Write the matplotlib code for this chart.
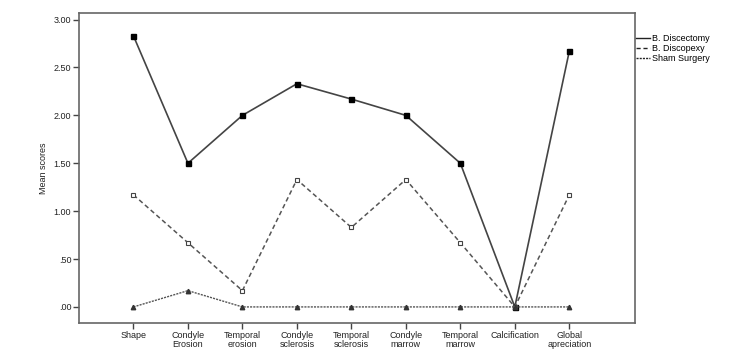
import matplotlib
matplotlib.use('Agg')
import matplotlib.pyplot as plt
from matplotlib.lines import Line2D

categories = ['Shape', 'Condyle\nErosion', 'Temporal\nerosion', 'Condyle\nsclerosis',
              'Temporal\nsclerosis', 'Condyle\nmarrow', 'Temporal\nmarrow',
              'Calcification', 'Global\napreciation']
discectomy = [2.83, 1.50, 2.00, 2.33, 2.17, 2.00, 1.50, 0.00, 2.67]
discopexy = [1.17, 0.67, 0.17, 1.33, 0.83, 1.33, 0.67, 0.00, 1.17]
sham = [0.00, 0.17, 0.00, 0.00, 0.00, 0.00, 0.00, 0.00, 0.00]
yticks = [0, 0.5, 1.0, 1.5, 2.0, 2.5, 3.0]
ytick_labels = ['.00', '.50', '1.00', '1.50', '2.00', '2.50', '3.00']

plt.rcParams['font.family'] = ['Liberation Sans', 'DejaVu Sans']

fig = plt.figure(figsize=(7.38, 3.58), dpi=100)
ax = fig.add_axes([0.107, 0.098, 0.753, 0.866])

x = list(range(len(categories)))
ax.plot(x, discectomy, '-', color='#444444', lw=1.2, marker='s', ms=3.6,
        mfc='black', mec='black')
ax.plot(x, discopexy, '--', color='#555555', lw=1.1, dashes=(3, 2), marker='s', ms=3.2,
        mfc='white', mec='#444444', mew=0.8)
ax.plot(x, sham, '--', color='#555555', lw=1.0, dashes=(1.5, 0.8), marker='^', ms=3.2,
        mfc='#333333', mec='#333333')

ax.set_xlim(-1, 9.2)
ax.set_ylim(-0.167, 3.07)
ax.set_xticks(x)
ax.set_xticklabels(categories, fontsize=6.5, color='#222222', linespacing=1.0)
ax.set_yticks(yticks)
ax.set_yticklabels(ytick_labels, fontsize=6.5, color='#222222')
ax.set_ylabel('Mean scores', fontsize=6.5, color='#222222')

for s in ax.spines.values():
    s.set_color('#666666')
    s.set_linewidth(1.2)
ax.tick_params(direction='out', length=4, width=1.0, color='#444444', pad=1.5)

handles = [Line2D([], [], color='#222222', ls='-', lw=1),
           Line2D([], [], color='#222222', ls='--', lw=1, dashes=(3, 2)),
           Line2D([], [], color='#222222', ls='--', lw=1, dashes=(1.5, 0.8))]
fig.legend(handles, ['B. Discectomy', 'B. Discopexy', 'Sham Surgery'],
           loc='upper left', bbox_to_anchor=(0.862, 0.905), frameon=False,
           fontsize=6.5, handlelength=1.5, handletextpad=0.2, labelspacing=0.1,
           borderaxespad=0, borderpad=0)

fig.savefig('out.png', dpi=100)
